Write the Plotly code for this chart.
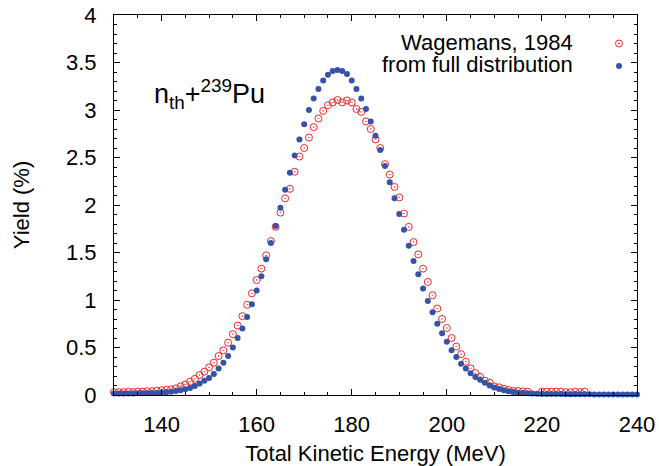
import plotly.graph_objects as go

# Energies (MeV)
e_blue = list(range(130, 241))
e_red = list(range(130, 230))

# Wagemans, 1984 (red open circles), Yield (%)
y_red = [0.03, 0.03, 0.03, 0.035, 0.03, 0.035, 0.035, 0.04, 0.04, 0.045,   # 130-139
         0.05, 0.055, 0.06, 0.07, 0.09, 0.11, 0.14, 0.17, 0.21, 0.245,      # 140-149
         0.29, 0.34, 0.41, 0.47, 0.55, 0.64, 0.73, 0.83, 0.95, 1.07,        # 150-159
         1.21, 1.33, 1.47, 1.62, 1.77, 1.92, 2.07, 2.17, 2.35, 2.51,        # 160-169
         2.60, 2.71, 2.82, 2.91, 2.99, 3.05, 3.08, 3.105, 3.08, 3.10,       # 170-179
         3.08, 3.01, 2.98, 2.88, 2.80, 2.69, 2.60, 2.43, 2.32, 2.19,        # 180-189
         2.08, 1.91, 1.77, 1.61, 1.48, 1.33, 1.19, 1.05, 0.91, 0.80,        # 190-199
         0.705, 0.60, 0.51, 0.43, 0.35, 0.28, 0.23, 0.19, 0.15, 0.13,       # 200-209
         0.09, 0.08, 0.066, 0.053, 0.042, 0.042, 0.039, 0.035, None, None,  # 210-219
         0.035, 0.035, 0.035, 0.035, 0.035, 0.03, 0.03, 0.035, 0.03, 0.035] # 220-229

# from full distribution (blue filled circles), Yield (%)
y_blue = [0.015, 0.015, 0.015, 0.015, 0.015, 0.018, 0.018, 0.02, 0.02, 0.022,  # 130-139
          0.025, 0.03, 0.035, 0.042, 0.05, 0.06, 0.075, 0.095, 0.12, 0.15,     # 140-149
          0.18, 0.22, 0.28, 0.34, 0.41, 0.50, 0.60, 0.70, 0.82, 0.955,         # 150-159
          1.10, 1.25, 1.43, 1.60, 1.78, 1.97, 2.16, 2.34, 2.52, 2.69,          # 160-169
          2.85, 3.00, 3.12, 3.22, 3.31, 3.37, 3.41, 3.42, 3.41, 3.38,          # 170-179
          3.31, 3.22, 3.12, 3.01, 2.88, 2.73, 2.58, 2.41, 2.24, 2.07,          # 180-189
          1.905, 1.74, 1.57, 1.41, 1.27, 1.12, 0.99, 0.87, 0.75, 0.65,         # 190-199
          0.56, 0.47, 0.40, 0.33, 0.28, 0.23, 0.19, 0.16, 0.13, 0.10,          # 200-209
          0.08, 0.063, 0.049, 0.039, 0.032, 0.025, 0.02, 0.018, 0.015, 0.012,  # 210-219
          0.01, 0.01, 0.01, 0.01, 0.01, 0.008, 0.008, 0.008, 0.008, 0.007,     # 220-229
          0.007, 0.006, 0.006, 0.006, 0.005, 0.005, 0.005, 0.005, 0.005, 0.005,# 230-239
          0.005]                                                               # 240

series_names = ["Wagemans, 1984", "from full distribution"]
x_ticks = [140, 160, 180, 200, 220, 240]
y_ticks = [0, 0.5, 1, 1.5, 2, 2.5, 3, 3.5, 4]

RED = "#ee2626"
BLUE = "#3653a5"
FONT = "Liberation Sans, Arial, sans-serif"
FS = 22

fig = go.Figure()
fig.add_trace(go.Scatter(
    x=e_red, y=y_red, mode="markers", name=series_names[0], cliponaxis=False,
    marker=dict(symbol="circle-open-dot", size=7, color=RED, line=dict(width=1, color=RED)),
))
fig.add_trace(go.Scatter(
    x=e_blue, y=y_blue, mode="markers", name=series_names[1], cliponaxis=False,
    marker=dict(symbol="circle", size=6, color=BLUE, line=dict(width=0)),
))

axis_common = dict(
    showline=True, linecolor="black", linewidth=1, mirror="allticks",
    ticks="inside", ticklen=6, tickwidth=1, tickcolor="black",
    showgrid=False, zeroline=False, automargin=False,
    tickfont=dict(family=FONT, size=FS, color="black"),
)

fig.update_xaxes(
    range=[130, 240], tickvals=x_ticks, ticktext=[str(v) for v in x_ticks],
    minor=dict(dtick=5, ticks="inside", ticklen=3, tickcolor="black", showgrid=False),
    title=dict(text="Total Kinetic Energy (MeV)", font=dict(family=FONT, size=FS, color="black"), standoff=16),
    ticklabelstandoff=10,
    **axis_common,
)
fig.update_yaxes(
    range=[0, 4], tickvals=y_ticks, ticktext=[f"{v:g}" for v in y_ticks],
    minor=dict(dtick=0.1, ticks="inside", ticklen=3, tickcolor="black", showgrid=False),
    title=dict(text="Yield (%)", font=dict(family=FONT, size=FS, color="black"), standoff=30),
    ticklabelstandoff=12,
    **axis_common,
)

# legend (text right-aligned, symbol to the right, as in the original)
lx_text = 0.8816
lx_sym = 0.9656
ly = [0.928, 0.870]
annotations = [
    dict(text=series_names[0], xref="paper", yref="paper", x=lx_text, y=ly[0],
         xanchor="right", yanchor="middle", showarrow=False,
         font=dict(family=FONT, size=FS, color="black")),
    dict(text=series_names[1], xref="paper", yref="paper", x=lx_text, y=ly[1],
         xanchor="right", yanchor="middle", showarrow=False,
         font=dict(family=FONT, size=FS, color="black")),
    dict(text="n<sub>th</sub>+<sup>239</sup>Pu", xref="paper", yref="paper", x=0.072, y=0.792,
         xanchor="left", yanchor="middle", showarrow=False,
         font=dict(family=FONT, size=27, color="black")),
]
shapes = [
    dict(type="circle", xref="paper", yref="paper", xsizemode="pixel", ysizemode="pixel",
         xanchor=lx_sym, yanchor=ly[0] - 0.003, x0=-3.5, x1=3.5, y0=-3.5, y1=3.5,
         line=dict(color=RED, width=1)),
    dict(type="circle", xref="paper", yref="paper", xsizemode="pixel", ysizemode="pixel",
         xanchor=lx_sym, yanchor=ly[0] - 0.003, x0=-0.7, x1=0.7, y0=-0.7, y1=0.7,
         line=dict(color=RED, width=0.5), fillcolor=RED),
    dict(type="circle", xref="paper", yref="paper", xsizemode="pixel", ysizemode="pixel",
         xanchor=lx_sym, yanchor=ly[1] - 0.004, x0=-3, x1=3, y0=-3, y1=3,
         line=dict(color=BLUE, width=0), fillcolor=BLUE),
]

fig.update_layout(
    width=659, height=466,
    margin=dict(l=114, r=22, t=15, b=71),
    paper_bgcolor="white", plot_bgcolor="white",
    showlegend=False,
    annotations=annotations, shapes=shapes,
    font=dict(family=FONT, color="black"),
)

fig.write_html("out.html")
